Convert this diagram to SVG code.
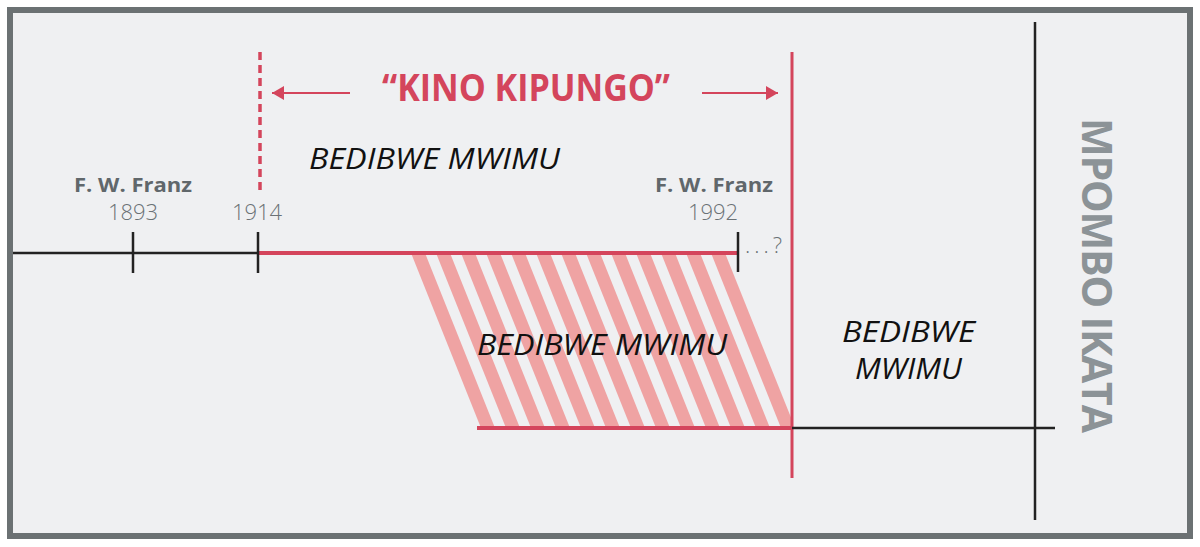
<svg xmlns="http://www.w3.org/2000/svg" width="1200" height="547" viewBox="0 0 1200 547">
<defs>
<style>
.ax{stroke:#222;stroke-width:2.5;fill:none}
.rd{stroke:#d4455c;fill:none}
.lbl{font-family:"Open Sans","Liberation Sans",sans-serif;font-weight:700;font-size:20px;fill:#60676b}
.yr{font-family:"Open Sans","Liberation Sans",sans-serif;font-weight:300;font-size:22px;fill:#6b7276}
.it{font-family:"Open Sans","Liberation Sans",sans-serif;font-style:italic;font-size:30px;fill:#111}
.st{fill:#efa3a3}
</style>
<marker id="ah" viewBox="0 0 12 14" refX="12" refY="7" markerWidth="12" markerHeight="14" markerUnits="userSpaceOnUse" orient="auto">
<path d="M0,0 L12,7 L0,14 Z" fill="#d4455c"/>
</marker>
</defs>
<rect x="10" y="10" width="1180" height="526" fill="#eff0f2" stroke="#6b7173" stroke-width="6"/>
<g id="hatch">
<polygon class="st" points="411,253 425,253 495,428 481,428"/>
<polygon class="st" points="436,253 450,253 520,428 506,428"/>
<polygon class="st" points="461,253 475,253 545,428 531,428"/>
<polygon class="st" points="486,253 500,253 570,428 556,428"/>
<polygon class="st" points="511,253 525,253 595,428 581,428"/>
<polygon class="st" points="536,253 550,253 620,428 606,428"/>
<polygon class="st" points="561,253 575,253 645,428 631,428"/>
<polygon class="st" points="586,253 600,253 670,428 656,428"/>
<polygon class="st" points="611,253 625,253 695,428 681,428"/>
<polygon class="st" points="636,253 650,253 720,428 706,428"/>
<polygon class="st" points="661,253 675,253 745,428 731,428"/>
<polygon class="st" points="686,253 700,253 770,428 756,428"/>
<polygon class="st" points="711,253 725,253 792,420 792,428 781,428"/>
</g>
<g id="connectors">
<line class="ax" x1="13" y1="253" x2="258" y2="253"/>
<line class="rd" stroke-width="4" x1="258" y1="253" x2="738" y2="253"/>
<line class="ax" x1="133" y1="232" x2="133" y2="273"/>
<line class="ax" x1="258" y1="232" x2="258" y2="273"/>
<line class="ax" x1="738" y1="232" x2="738" y2="272"/>
<line class="rd" stroke-width="3.5" stroke-dasharray="8,5" x1="260" y1="52" x2="260" y2="193"/>
<line class="rd" stroke-width="3" x1="792" y1="52" x2="792" y2="478"/>
<line class="rd" stroke-width="4" x1="477" y1="428" x2="792" y2="428"/>
<line class="ax" x1="792" y1="428" x2="1055" y2="428"/>
<line class="ax" x1="1035" y1="22" x2="1035" y2="520"/>
<line class="rd" stroke-width="2" x1="350" y1="93" x2="272" y2="93" marker-end="url(#ah)"/>
<line class="rd" stroke-width="2" x1="702" y1="93" x2="778" y2="93" marker-end="url(#ah)"/>
</g>
<g id="title">
<text x="526" y="101" text-anchor="middle" font-family="'Open Sans','Liberation Sans',sans-serif" font-weight="700" font-size="37" fill="#d4455c" textLength="288" lengthAdjust="spacingAndGlyphs">“KINO KIPUNGO”</text>
</g>
<g id="label-1893">
<text class="lbl" x="133" y="192" text-anchor="middle" textLength="118" lengthAdjust="spacingAndGlyphs">F. W. Franz</text>
<text class="yr" x="133" y="220" text-anchor="middle">1893</text>
</g>
<g id="label-1914">
<text class="yr" x="257" y="220" text-anchor="middle">1914</text>
</g>
<g id="label-1992">
<text class="lbl" x="714" y="192" text-anchor="middle" textLength="118" lengthAdjust="spacingAndGlyphs">F. W. Franz</text>
<text class="yr" x="713" y="220" text-anchor="middle">1992</text>
<text class="yr" x="745" y="253" font-size="20" textLength="37" lengthAdjust="spacing">...?</text>
</g>
<g id="region-top">
<text class="it" x="309" y="169" textLength="251" lengthAdjust="spacingAndGlyphs">BEDIBWE MWIMU</text>
</g>
<g id="region-mid">
<text class="it" x="477" y="355" textLength="250" lengthAdjust="spacingAndGlyphs">BEDIBWE MWIMU</text>
</g>
<g id="region-right">
<text class="it" x="842" y="342" textLength="133" lengthAdjust="spacingAndGlyphs">BEDIBWE</text>
<text class="it" x="855" y="379" textLength="107" lengthAdjust="spacingAndGlyphs">MWIMU</text>
</g>
<g id="side-label">
<text transform="translate(1082,118) rotate(90)" x="0" y="0" font-family="'Open Sans','Liberation Sans',sans-serif" font-weight="700" font-size="41" fill="#8c9397" textLength="315" lengthAdjust="spacing">MPOMBO IKATA</text>
</g>
</svg>
